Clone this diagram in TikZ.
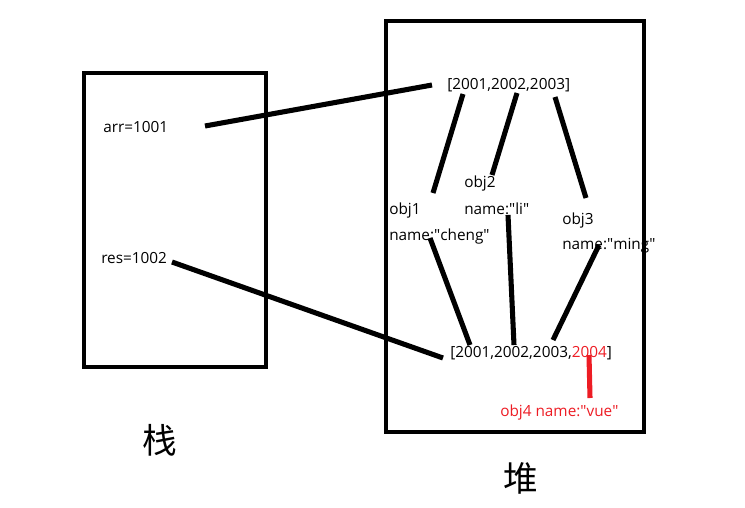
\documentclass[tikz,border=0pt]{standalone}
\usepackage{fontspec}
\setmainfont{Open Sans}
\newfontfamily\cjk{Noto Sans CJK SC}
\usepackage{xcolor}
\usetikzlibrary{positioning}
\definecolor{paintred}{RGB}{237,28,36}
\newcommand{\qt}{\textquotedbl}

\begin{document}
\begin{tikzpicture}[x=0.75pt,y=-0.75pt,
    frame/.style={draw=black, line width=3pt},
    link/.style={black, line width=3.8pt},
    redlink/.style={paintred, line width=3.8pt},
    txt/.style={inner sep=0pt, anchor=west, font=\fontsize{11.5}{13}\selectfont},
    hanzi/.style={inner sep=0pt, font=\cjk\fontsize{26}{30}\selectfont}]
    \useasboundingbox (0,0) rectangle (745,507);
    % stack and heap frames
    \draw[frame] (84,73) rectangle (266,367);
    \draw[frame] (386,21) rectangle (644,432);
    \node[hanzi] (zhan) at (160,440) {栈};
    \node[hanzi] (dui) at (521,478) {堆};
    % stack entries
    \node[txt] (arr) at (103,127) {arr=1001};
    \node[txt] (res) at (101,258) {res=1002};
    % heap entries
    \node[txt] (heapa) at (447,85) {[2001,2002,2003]};
    \node[txt] (heapb) at (450,353) {[2001,2002,2003,\textcolor{paintred}{2004}]};
    \node[txt] (obja) at (389,211) {obj1};
    \node[txt] (namea) at (389,237) {name:\qt cheng\qt};
    \node[txt] (objb) at (464,184) {obj2};
    \node[txt] (nameb) at (464,209) {name:\qt li\qt};
    \node[txt] (objc) at (562,221) {obj3};
    \node[txt] (namec) at (562,246) {name:\qt ming\qt};
    \node[txt, text=paintred] (objd) at (500,413) {obj4 name:\qt vue\qt};
    % line ends
    \coordinate (arrend) at (205,126);
    \coordinate (resend) at (172,262);
    \coordinate (ha) at (432,85);
    \coordinate (hb) at (443,358);
    \coordinate (ha1) at (463,94);
    \coordinate (ha2) at (517,93);
    \coordinate (ha3) at (555,97);
    \coordinate (o1) at (433,193);
    \coordinate (o2) at (492,175);
    \coordinate (o3) at (586,198);
    \coordinate (n1) at (430,238);
    \coordinate (n2) at (508,215);
    \coordinate (n3) at (599,245);
    \coordinate (hb1) at (470,345);
    \coordinate (hb2) at (514,345);
    \coordinate (hb3) at (553,340);
    \coordinate (hb4) at (589,355);
    \coordinate (d4) at (590,398);
    % references
    \draw[link] (arrend) -- (ha);
    \draw[link] (resend) -- (hb);
    \draw[link] (ha1) -- (o1);
    \draw[link] (ha2) -- (o2);
    \draw[link] (ha3) -- (o3);
    \draw[link] (n1) -- (hb1);
    \draw[link] (n2) -- (hb2);
    \draw[link] (n3) -- (hb3);
    \draw[redlink] (hb4) -- (d4);
\end{tikzpicture}
\end{document}
